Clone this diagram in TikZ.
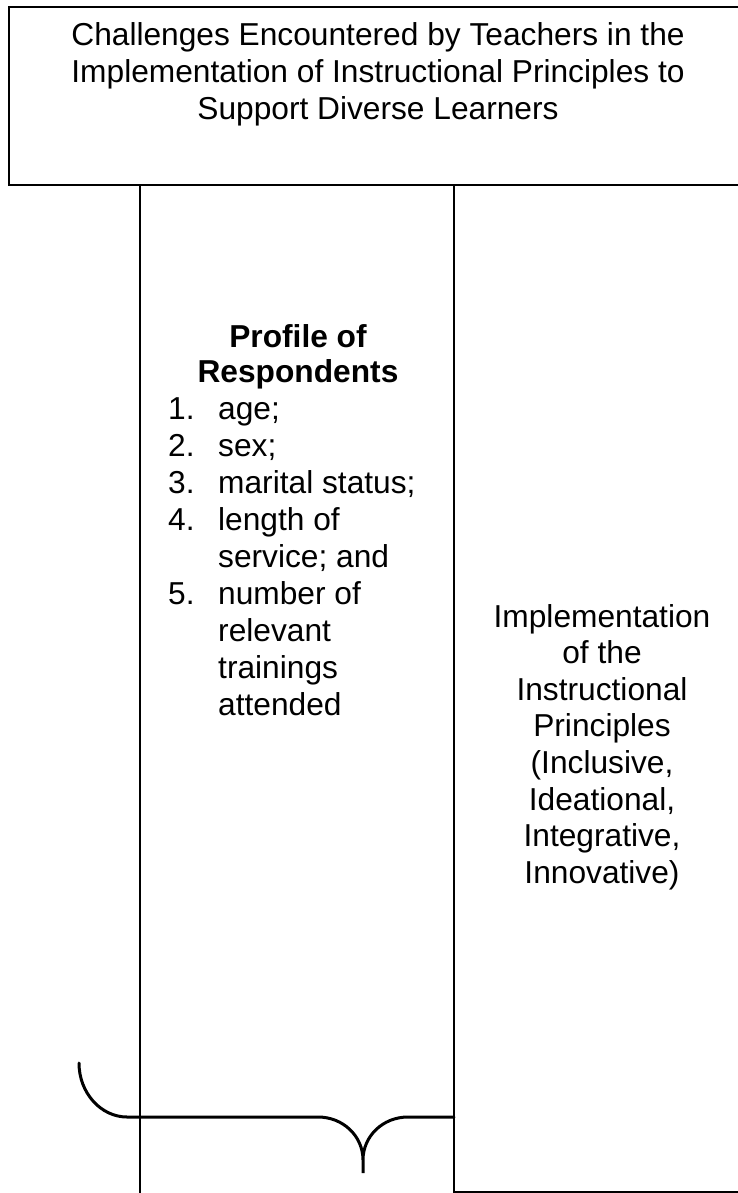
\documentclass[tikz,border=0pt]{standalone}
\usepackage{fontspec}
\setmainfont{Liberation Sans}
\usetikzlibrary{positioning}

\begin{document}
\begin{tikzpicture}[x=1pt, y=-1pt,
  frame/.style={draw, line width=2pt, inner sep=0pt, outer sep=0pt},
  txt/.style={inner sep=0pt, font=\fontsize{31.7}{37}\selectfont},
  brace/.style={line width=3pt, line cap=round}]
  \useasboundingbox (0,0) rectangle (738,1193);
  \clip (0,0) rectangle (738,1193);
  \def\numw{50pt}

  % --- frames ---
  \node[frame, anchor=north west, minimum width=738pt, minimum height=178pt] (titlebox) at (9,7) {};
  \node[frame, anchor=north west, minimum width=314pt, minimum height=1060pt] (profilebox) at (140,185) {};
  \node[frame, anchor=north west, minimum width=296pt, minimum height=1007pt] (principlebox) at (454,185) {};

  % --- title ---
  \node[txt, anchor=base] (title) at (378,46) {\begin{tabular}[t]{@{}c@{}}
    Challenges Encountered by Teachers in the\\
    Implementation of Instructional Principles to\\
    Support Diverse Learners\end{tabular}};

  % --- profile column ---
  \node[txt, anchor=base, font=\fontsize{31.7}{35}\selectfont\bfseries] (profilehead) at (298,347)
    {\begin{tabular}[t]{@{}c@{}}Profile of\\Respondents\end{tabular}};
  \node[txt, anchor=base west] (profilelist) at (168,419) {\begin{tabular}[t]{@{}l@{}l@{}}
    \makebox[\numw][l]{1.} & age;\\
    \makebox[\numw][l]{2.} & sex;\\
    \makebox[\numw][l]{3.} & marital status;\\
    \makebox[\numw][l]{4.} & length of\\
                           & service; and\\
    \makebox[\numw][l]{5.} & number of\\
                           & relevant\\
                           & trainings\\
                           & attended\end{tabular}};

  % --- principles column ---
  \node[txt, anchor=base, font=\fontsize{31.7}{36.6}\selectfont] (principles) at (602,627)
    {\begin{tabular}[t]{@{}c@{}}Implementation\\of the\\Instructional\\Principles\\
    (Inclusive,\\Ideational,\\Integrative,\\Innovative)\end{tabular}};

  % --- brace ---
  \coordinate (bracestart) at (79,1063);
  \coordinate (bracetip) at (363,1173);
  \coordinate (braceend) at (454,1117);
  \draw[brace] (bracestart) .. controls (79,1093) and (101,1117) .. (127,1117)
    -- (318,1117) .. controls (343,1117) and (363,1136) .. (363,1160) -- (bracetip)
    -- (363,1160) .. controls (363,1136) and (383,1117) .. (408,1117)
    -- (principlebox.west |- braceend);
\end{tikzpicture}
\end{document}
